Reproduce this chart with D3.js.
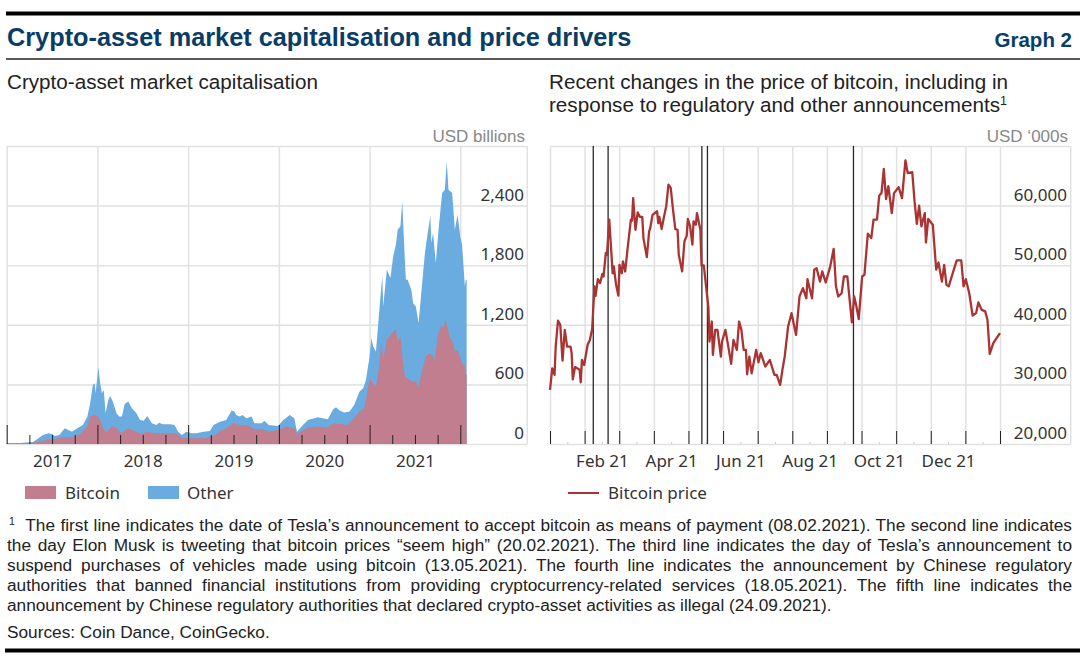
<!DOCTYPE html>
<html>
<head>
<meta charset="utf-8">
<script src="https://cdn.jsdelivr.net/npm/d3@7"></script>
<style>
  body { margin: 0; background: #fff; }
  #page { position: relative; width: 1080px; height: 665px; overflow: hidden; }
  svg { position: absolute; left: 0; top: 0; }
  #notes { position: absolute; left: 7px; top: 516.4px; width: 1065px; font: 17.25px/19.8px "Liberation Sans", Arial, sans-serif; color: #222; }
  #notes .row { text-align: justify; text-align-last: justify; height: 19.8px; overflow: hidden; }
  #notes .last { text-align-last: left; }
  #notes sup { font-size: 10.5px; line-height: 0; vertical-align: 6px; margin-left: 2px; }
  #sources { position: absolute; left: 7px; top: 621.7px; font: 17.25px/20px "Liberation Sans", Arial, sans-serif; color: #222; }
</style>
</head>
<body>
<div id="page"></div>
<script>
// left panel: USD billions, time as decimal year
var totalYears = [2017.00,2017.15,2017.29,2017.35,2017.40,2017.46,2017.50,2017.53,2017.58,2017.64,2017.68,2017.72,2017.79,2017.84,2017.89,2017.92,2017.95,2017.97,2017.98,2018.01,2018.03,2018.05,2018.07,2018.09,2018.12,2018.14,2018.17,2018.21,2018.24,2018.27,2018.30,2018.34,2018.38,2018.43,2018.47,2018.51,2018.55,2018.60,2018.65,2018.68,2018.72,2018.80,2018.85,2018.89,2018.93,2018.98,2019.04,2019.09,2019.17,2019.24,2019.28,2019.35,2019.42,2019.48,2019.51,2019.53,2019.57,2019.60,2019.64,2019.70,2019.73,2019.81,2019.84,2019.89,2019.99,2020.05,2020.12,2020.17,2020.20,2020.25,2020.32,2020.43,2020.54,2020.60,2020.63,2020.67,2020.72,2020.78,2020.83,2020.89,2020.93,2020.96,2021.00,2021.02,2021.04,2021.07,2021.09,2021.12,2021.14,2021.15,2021.19,2021.23,2021.26,2021.29,2021.31,2021.34,2021.36,2021.38,2021.40,2021.42,2021.46,2021.48,2021.51,2021.54,2021.57,2021.61,2021.63,2021.67,2021.68,2021.70,2021.73,2021.76,2021.80,2021.83,2021.85,2021.87,2021.91,2021.94,2021.97,2022.00,2022.02,2022.05,2022.06,2022.07];
var totalCap = [7,10,20,57,91,108,101,81,91,158,141,124,165,192,276,410,595,612,511,773,612,511,544,309,444,484,427,309,276,276,403,427,360,309,242,235,282,208,192,215,198,198,192,124,91,124,108,108,124,131,192,225,242,336,326,292,276,292,259,276,208,208,235,192,181,242,292,259,124,175,242,269,249,349,370,336,316,326,393,528,561,645,880,1065,981,931,1149,1485,1687,1384,1754,1670,1888,2006,2157,2191,2443,2023,1653,1653,1552,1418,1384,1216,1519,1922,2056,2298,2023,2124,1821,2157,2527,2560,2846,2560,2527,2157,2308,2090,2006,1586,1653,1653];
var bitcoinYears = [2017.00,2017.29,2017.44,2017.53,2017.62,2017.72,2017.81,2017.89,2017.92,2017.96,2018.01,2018.05,2018.09,2018.16,2018.21,2018.26,2018.34,2018.41,2018.49,2018.54,2018.65,2018.87,2018.93,2019.02,2019.17,2019.28,2019.37,2019.42,2019.50,2019.57,2019.66,2019.73,2019.81,2019.89,2019.99,2020.08,2020.17,2020.20,2020.32,2020.43,2020.54,2020.60,2020.67,2020.76,2020.82,2020.89,2020.94,2020.97,2021.00,2021.04,2021.07,2021.10,2021.13,2021.15,2021.19,2021.26,2021.29,2021.31,2021.34,2021.37,2021.39,2021.44,2021.48,2021.51,2021.54,2021.57,2021.62,2021.66,2021.70,2021.72,2021.75,2021.79,2021.81,2021.84,2021.88,2021.92,2021.94,2021.97,2022.02,2022.05,2022.06,2022.07];
var bitcoinCap = [7,13,40,47,67,67,101,175,276,292,276,192,114,181,158,108,158,131,101,124,108,108,64,57,60,81,141,158,208,192,185,151,151,124,141,175,158,101,165,175,168,208,202,192,249,326,360,494,662,612,578,746,1032,847,1048,1132,1149,1032,1082,813,679,645,628,628,571,712,880,914,880,847,1082,1200,1166,1250,1082,1015,931,948,813,780,696,696];
var capTicks = [0,600,1200,1800,2400];
var yearLabels = [2017,2018,2019,2020,2021];

// right panel: days since 1 Jan 2021, USD
var priceDays = [0,2,4,5,7,9,11,13,15,18,19,20,22,26,27,28,30,33,35,37,39,40,42,44,46,47,49,50,52,55,56,58,60,61,63,64,66,68,71,72,73,75,77,79,81,82,85,87,88,90,94,95,96,98,100,102,104,106,108,110,112,113,116,118,120,121,123,125,126,128,129,132,133,135,137,139,140,142,143,145,147,150,151,154,157,159,161,164,166,168,170,172,173,175,177,181,183,185,189,193,197,199,202,204,206,209,212,216,219,222,225,226,230,232,234,237,239,242,246,249,251,253,256,258,261,265,267,269,271,274,276,279,282,284,287,289,291,293,295,297,300,302,306,309,312,314,318,320,322,324,326,329,330,332,336,339,341,344,346,348,350,354,357,361,363,365,368,371,374,376,379,382,384,386,389,392,395];
var priceValues = [29100,32700,31600,36350,40700,40000,34000,39150,36350,36350,35250,30850,32900,32450,30350,34100,33250,36650,37450,39250,46450,44850,47650,47000,48550,48100,52050,51750,57650,48650,49800,46700,44900,50050,48650,50650,48950,52600,57650,57500,61250,55950,58850,58100,58100,54550,51350,55650,56250,58450,59050,57050,58100,56050,58100,59850,63500,62950,59300,56050,55950,51750,48950,54000,54950,57750,56500,53450,57350,56800,58750,55950,49950,49950,46450,43050,37200,40550,34950,39150,39150,34650,37200,39150,35800,33450,37450,35800,40550,39150,35800,35800,31700,34650,31850,35800,33700,35250,33000,34100,31600,31600,29900,32450,34650,39700,41950,38300,44750,46150,44450,47650,44450,49250,49500,47250,48950,47100,49800,52750,46450,44750,45300,48100,48100,40400,44750,43050,40950,48100,48400,55300,54550,57650,57650,61700,62100,66150,61100,63250,58750,62100,63100,61250,67600,65450,65600,60700,56950,60000,56500,58750,53800,57750,56800,49250,50450,47250,50050,46700,46450,48950,50800,50800,46450,47650,45300,41550,41950,43750,42500,42250,40850,35100,36900,37750,38600];
var priceTicks = [20000,30000,40000,50000,60000];
var eventDates = ["2021-02-08","2021-02-20","2021-05-13","2021-05-18","2021-09-24"];
var monthLabels = ["Feb 21","Apr 21","Jun 21","Aug 21","Oct 21","Dec 21"];

var noteRows = [
  "<sup>1</sup>&nbsp; The first line indicates the date of Tesla’s announcement to accept bitcoin as means of payment (08.02.2021). The second line indicates",
  "the day Elon Musk is tweeting that bitcoin prices “seem high” (20.02.2021). The third line indicates the day of Tesla’s announcement to",
  "suspend purchases of vehicles made using bitcoin (13.05.2021). The fourth line indicates the announcement by Chinese regulatory",
  "authorities that banned financial institutions from providing cryptocurrency-related services (18.05.2021). The fifth line indicates the",
  "announcement by Chinese regulatory authorities that declared crypto-asset activities as illegal (24.09.2021)."
];

var sans = '"Liberation Sans", Arial, sans-serif';
var tickFont = '"Noto Sans", sans-serif';
var gridColor = "#e1e1e1";
var plotTop = 146, plotBottom = 444;

var page = d3.select("#page");
var svg = page.append("svg").attr("width", 1080).attr("height", 665);

// header rules and titles
function rule(x1, x2, y, w, color) {
    svg.append("line").attr("x1", x1).attr("x2", x2).attr("y1", y).attr("y2", y)
        .attr("stroke", color).attr("stroke-width", w);
}
function label(x, y, text, size, opts) {
    opts = opts || {};
    return svg.append("text").attr("x", x).attr("y", y).text(text)
        .attr("font-family", opts.family || sans)
        .attr("font-size", size)
        .attr("font-weight", opts.weight || "normal")
        .attr("text-anchor", opts.anchor || "start")
        .attr("fill", opts.fill || "#222");
}
rule(6, 1080, 13.5, 4, "#000");
rule(6, 1080, 59, 1.5, "#222");
rule(5, 1080, 650.5, 4, "#000");
label(7, 46, "Crypto-asset market capitalisation and price drivers", 25.3, { weight: "bold", fill: "#0a3d66" });
label(1072, 47, "Graph 2", 20.5, { weight: "bold", anchor: "end", fill: "#0a3d66" });
label(7, 89, "Crypto-asset market capitalisation", 20.65);
label(549, 89, "Recent changes in the price of bitcoin, including in", 20.65);
var sub = label(549, 112, "response to regulatory and other announcements", 20.65);
sub.append("tspan").attr("dy", -7).attr("font-size", 12.5).text("1");
label(525, 142, "USD billions", 17, { anchor: "end", fill: "#888" });
label(1068, 142, "USD ‘000s", 17, { anchor: "end", fill: "#888" });

function styleAxis(g) {
    g.select(".domain").remove();
    g.selectAll("text").attr("font-family", tickFont).attr("font-size", 17).attr("fill", "#333");
}

// ---- left panel ----
var xCap = d3.scaleLinear().domain([2017, 2022]).range([6.7, 460.3]);
var yCap = d3.scaleLinear().domain([0, 3000]).range([plotBottom, plotTop]);
var capRight = 527.3;

var capGrid = svg.append("g");
capGrid.append("g").attr("transform", "translate(" + capRight + ",0)")
    .call(d3.axisLeft(yCap).tickValues(d3.range(0, 3001, 600)).tickSize(capRight - 6.7).tickFormat(""))
    .call(g => g.select(".domain").remove())
    .selectAll("line").attr("stroke", gridColor).attr("stroke-width", 1.5);
capGrid.append("g").attr("transform", "translate(0," + plotBottom + ")")
    .call(d3.axisTop(xCap).tickValues(d3.range(2017, 2023)).tickSize(plotBottom - plotTop).tickFormat(""))
    .call(g => g.select(".domain").remove())
    .selectAll("line").attr("stroke", gridColor).attr("stroke-width", 1.5);
capGrid.append("line").attr("x1", capRight).attr("x2", capRight).attr("y1", plotTop).attr("y2", plotBottom)
    .attr("stroke", gridColor).attr("stroke-width", 1.5);

var capArea = d3.area()
    .x(d => xCap(d[0]))
    .y0(yCap(0))
    .y1(d => yCap(d[1]));
svg.append("path").datum(d3.zip(totalYears, totalCap)).attr("d", capArea).attr("fill", "#6aabe0");
svg.append("path").datum(d3.zip(bitcoinYears, bitcoinCap)).attr("d", capArea).attr("fill", "#c07e8e");

// quarter ticks sit on top of the areas
var quarters = d3.range(2017, 2022.01, 0.25);
svg.append("g").attr("transform", "translate(0," + plotBottom + ")")
    .call(d3.axisTop(xCap).tickValues(quarters.filter(d => d % 1 != 0)).tickSize(9).tickFormat(""))
    .call(g => g.select(".domain").remove())
    .selectAll("line").attr("stroke", "#222").attr("stroke-width", 1);
svg.append("g").attr("transform", "translate(0," + plotBottom + ")")
    .call(d3.axisTop(xCap).tickValues(quarters.filter(d => d % 1 == 0)).tickSize(19).tickFormat(""))
    .call(g => g.select(".domain").remove())
    .selectAll("line").attr("stroke", "#222").attr("stroke-width", 1);

svg.append("g").attr("transform", "translate(0,455)")
    .call(d3.axisBottom(xCap).tickValues(yearLabels.map(d => d + 0.5)).tickSize(0).tickPadding(0).tickFormat(d => Math.floor(d)))
    .call(styleAxis);
svg.append("g").attr("transform", "translate(524,-11)")
    .call(d3.axisLeft(yCap).tickValues(capTicks).tickSize(0).tickPadding(0).tickFormat(d3.format(",")))
    .call(styleAxis);

// ---- right panel ----
// the reference draws every month at the same width, so x is in months since Jan 21
var xMonth = d3.scaleLinear().domain([0, 13]).range([550, 1000]);
var yPrice = d3.scaleLinear().domain([20000, 70000]).range([plotBottom, plotTop]);
var priceRight = 1070.7;
var months = d3.range(0, 14);
var daysPerMonth = 395 / 13;

function monthPos(str) {
    var d = new Date(str);
    var monthStart = d3.utcMonth.floor(d);
    var monthDays = d3.utcDay.count(monthStart, d3.utcMonth.offset(monthStart, 1));
    return d.getUTCMonth() + d3.utcDay.count(monthStart, d) / monthDays;
}

svg.append("g").attr("transform", "translate(" + priceRight + ",0)")
    .call(d3.axisLeft(yPrice).tickValues(d3.range(20000, 70001, 10000)).tickSize(priceRight - 550).tickFormat(""))
    .call(g => g.select(".domain").remove())
    .selectAll("line").attr("stroke", gridColor).attr("stroke-width", 1.5);
svg.append("g").attr("transform", "translate(0," + plotBottom + ")")
    .call(d3.axisTop(xMonth).tickValues(months).tickSize(plotBottom - plotTop).tickFormat(""))
    .call(g => g.select(".domain").remove())
    .selectAll("line").attr("stroke", gridColor).attr("stroke-width", 1.5);
svg.append("line").attr("x1", priceRight).attr("x2", priceRight).attr("y1", plotTop).attr("y2", plotBottom)
    .attr("stroke", gridColor).attr("stroke-width", 1.5);

// month ticks and the small mid-month ones
svg.append("g").attr("transform", "translate(0," + plotBottom + ")")
    .call(d3.axisTop(xMonth).tickValues(months.slice(0, -1).map(d => d + 0.5)).tickSize(2).tickFormat(""))
    .call(g => g.select(".domain").remove())
    .selectAll("line").attr("stroke", "#ccc").attr("stroke-width", 1);
svg.append("g").attr("transform", "translate(0," + plotBottom + ")")
    .call(d3.axisTop(xMonth).tickValues(months).tickSize(13).tickFormat(""))
    .call(g => g.select(".domain").remove())
    .selectAll("line").attr("stroke", "#222").attr("stroke-width", 1);

// event lines
svg.append("g").selectAll("line").data(eventDates).join("line")
    .attr("x1", d => xMonth(monthPos(d))).attr("x2", d => xMonth(monthPos(d)))
    .attr("y1", plotTop).attr("y2", plotBottom)
    .attr("stroke", "#2a2a2a").attr("stroke-width", 1.3);

var priceLine = d3.line()
    .x(d => xMonth(d[0] / daysPerMonth))
    .y(d => yPrice(d[1]));
svg.append("path").datum(d3.zip(priceDays, priceValues)).attr("d", priceLine)
    .attr("fill", "none").attr("stroke", "#aa3333").attr("stroke-width", 2.3).attr("stroke-linejoin", "round");

svg.append("g").attr("transform", "translate(0,455)")
    .call(d3.axisBottom(xMonth)
        .tickValues(monthLabels.map((d, i) => i * 2 + 1.5))
        .tickSize(0).tickPadding(0).tickFormat((d, i) => monthLabels[i]))
    .call(styleAxis);
svg.append("g").attr("transform", "translate(1067,-11)")
    .call(d3.axisLeft(yPrice).tickValues(priceTicks).tickSize(0).tickPadding(0).tickFormat(d3.format(",")))
    .call(styleAxis);

// legends
svg.append("rect").attr("x", 25).attr("y", 486).attr("width", 31).attr("height", 13).attr("fill", "#c07e8e");
label(65, 499, "Bitcoin", 17, { family: tickFont, fill: "#333" });
svg.append("rect").attr("x", 148).attr("y", 486).attr("width", 31).attr("height", 13).attr("fill", "#6aabe0");
label(187, 499, "Other", 17, { family: tickFont, fill: "#333" });
svg.append("line").attr("x1", 568).attr("x2", 599).attr("y1", 493).attr("y2", 493)
    .attr("stroke", "#aa3333").attr("stroke-width", 2);
label(608, 499, "Bitcoin price", 17, { family: tickFont, fill: "#333" });

// footnote
var notes = page.append("div").attr("id", "notes");
noteRows.forEach(function (row, i) {
    notes.append("div").attr("class", i == noteRows.length - 1 ? "row last" : "row").html(row);
});
page.append("div").attr("id", "sources").text("Sources: Coin Dance, CoinGecko.");
</script>
</body>
</html>
